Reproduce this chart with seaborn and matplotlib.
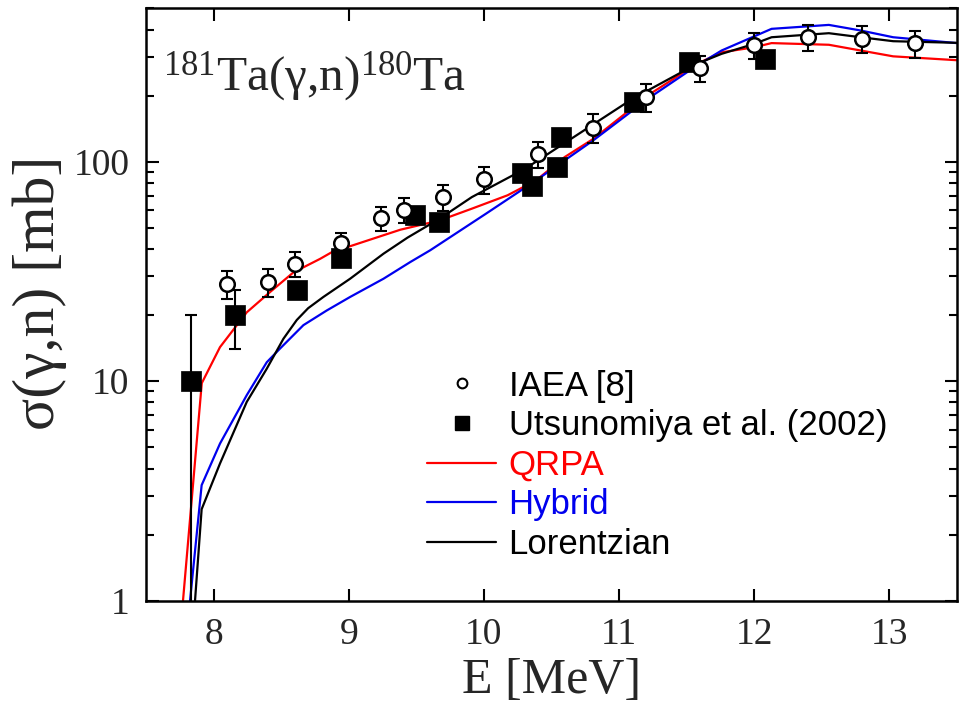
import numpy as np
import pandas as pd
import matplotlib
matplotlib.use("Agg")
import matplotlib.pyplot as plt
from matplotlib.lines import Line2D
import seaborn as sns

# --- measured cross sections -------------------------------------------------
iaea_E = [8.10, 8.40, 8.60, 8.94, 9.24, 9.41, 9.70, 10.00, 10.40, 10.81,
          11.20, 11.60, 12.00, 12.40, 12.80, 13.19]
iaea_sigma = [27.8, 28.3, 34.3, 42.5, 55.2, 60.5, 69.0, 83.1, 108, 143,
              198, 267, 341, 369, 363, 347]
iaea_err = [4, 4, 4.5, 5, 7, 8, 9.5, 11.5, 14.5, 21.5, 29, 36.5, 46, 51, 51, 49]

utsu_E = [7.83, 8.16, 8.62, 8.94, 9.49, 9.67, 10.28, 10.36, 10.54, 10.57,
          11.11, 11.52, 12.08]
utsu_sigma = [10, 20, 26.1, 36.6, 57, 53.1, 88.8, 77.4, 94.5, 130, 188, 284, 294]
utsu_err = [10, 6, 0, 0, 0, 0, 0, 0, 0, 0, 0, 0, 0]

# --- model calculations ------------------------------------------------------
qrpa_E = [7.774, 7.913, 8.048, 8.246, 8.419, 8.591, 8.789, 8.875, 9.0, 9.2,
          9.383, 9.673, 9.912, 10.176, 10.387, 10.599, 10.81, 11.233, 11.577,
          11.76, 12.0, 12.13, 12.554, 12.79, 13.03, 13.5]
qrpa_sigma = [1.0, 9.8, 14.3, 20.6, 25.5, 31.3, 36.1, 38.7, 41, 45,
              49, 54, 61.1, 70.3, 82.2, 105, 127, 204, 279,
              315, 332, 347, 341, 321, 302, 290]

hybrid_E = [7.826, 7.912, 8.048, 8.246, 8.394, 8.493, 8.665, 8.838, 9.011,
            9.258, 9.456, 9.604, 10.017, 10.387, 10.81, 11.233, 11.577, 11.76,
            12.13, 12.554, 12.79, 13.03, 13.5]
hybrid_sigma = [1.0, 3.36, 5.2, 8.64, 12.2, 14.1, 18, 21, 24.2,
                29.3, 34.9, 39.5, 58, 82.2, 125, 197, 274, 321,
                403, 420, 396, 369, 347]

lorentz_E = [7.863, 7.912, 8.048, 8.246, 8.394, 8.517, 8.616, 8.70, 8.813,
             9.011, 9.258, 9.436, 9.673, 9.912, 10.307, 11.101, 11.577, 11.76,
             12.0, 12.13, 12.554, 12.79, 13.03, 13.5]
lorentz_sigma = [1.0, 2.61, 4.22, 8.05, 11.4, 15.6, 19, 21.5, 24.2,
                 29.3, 38.1, 45.1, 55, 69, 92.9, 193.5, 279, 310,
                 344, 369, 385, 369, 354, 348]

model_names = ["QRPA", "Hybrid", "Lorentzian"]
model_colors = ["#ff0000", "#0000ee", "#000000"]

x_ticks = [8, 9, 10, 11, 12, 13]
y_ticks = [1, 10, 100]

# --- style -------------------------------------------------------------------
sns.set_style("ticks")
plt.rcParams["font.family"] = ["Liberation Serif", "DejaVu Serif"]
plt.rcParams["mathtext.fontset"] = "custom"
plt.rcParams["mathtext.rm"] = "Liberation Serif"
plt.rcParams["mathtext.it"] = "Liberation Serif:italic"
plt.rcParams["mathtext.bf"] = "Liberation Serif:bold"

fig = plt.figure(figsize=(9.61, 7.14), dpi=100)
ax = fig.add_axes([0.1519, 0.1587, 0.8436, 0.8297])

models = pd.concat([
    pd.DataFrame({"E": qrpa_E, "sigma": qrpa_sigma, "model": "QRPA"}),
    pd.DataFrame({"E": hybrid_E, "sigma": hybrid_sigma, "model": "Hybrid"}),
    pd.DataFrame({"E": lorentz_E, "sigma": lorentz_sigma, "model": "Lorentzian"}),
])
sns.lineplot(data=models, x="E", y="sigma", hue="model", hue_order=model_names,
             palette=model_colors, sort=False, estimator=None, lw=1.6,
             legend=False, ax=ax, zorder=2)

# error bars drawn under the symbols
ax.errorbar(iaea_E, iaea_sigma, yerr=iaea_err, fmt="none", ecolor="black",
            elinewidth=1.5, capsize=4, capthick=1.5, zorder=3)
u_sig = np.array(utsu_sigma, dtype=float)
u_err = np.array(utsu_err, dtype=float)
u_lo = np.minimum(u_err, 0.999 * u_sig)
mask = u_err > 0
ax.errorbar(np.array(utsu_E)[mask], u_sig[mask],
            yerr=[u_lo[mask], u_err[mask]], fmt="none", ecolor="black",
            elinewidth=1.5, capsize=4, capthick=1.5, zorder=3)

sns.scatterplot(x=utsu_E, y=utsu_sigma, marker="s", s=200, color="black",
                edgecolor="black", linewidth=0.5, ax=ax, zorder=4)
sns.scatterplot(x=iaea_E, y=iaea_sigma, marker="o", s=110, color="white",
                edgecolor="black", linewidth=1.8, ax=ax, zorder=5)

ax.set_yscale("log")
ax.set_xlim(7.5, 13.5)
ax.set_ylim(1, 500)
ax.set_xticks(x_ticks)
ax.set_xticklabels([str(t) for t in x_ticks])
ax.set_yticks(y_ticks)
ax.set_yticklabels([str(t) for t in y_ticks])
ax.xaxis.set_minor_locator(matplotlib.ticker.NullLocator())
ax.yaxis.set_minor_locator(matplotlib.ticker.LogLocator(base=10, subs=np.arange(2, 10)))
ax.yaxis.set_minor_formatter(matplotlib.ticker.NullFormatter())

ax.tick_params(which="both", direction="in", top=True, right=True, width=1.5,
               color="black")
ax.tick_params(which="major", length=9, labelsize=27, pad=12)
ax.tick_params(which="minor", length=6)
for sp in ax.spines.values():
    sp.set_linewidth(1.8)
    sp.set_color("black")

ax.set_xlabel("E [MeV]", fontsize=36, labelpad=4)
ax.set_ylabel("σ(γ,n) [mb]", fontsize=43)
ax.yaxis.set_label_coords(-0.097, 0.52)

# reaction label
ax.text(0.021, 0.862, r"$^{\mathrm{181}}$Ta(γ,n)$^{\mathrm{180}}$Ta",
        transform=ax.transAxes, fontsize=35.5, va="baseline", ha="left")

handles = [
    Line2D([], [], ls="none", marker="o", ms=7, mfc="white", mec="black", mew=1.5),
    Line2D([], [], ls="none", marker="s", ms=10, mfc="black", mec="black"),
    Line2D([], [], color=model_colors[0], lw=1.6),
    Line2D([], [], color=model_colors[1], lw=1.6),
    Line2D([], [], color=model_colors[2], lw=1.6),
]
labels = ["IAEA [8]", "Utsunomiya et al. (2002)"] + model_names
leg = ax.legend(handles, labels, loc="upper left", bbox_to_anchor=(0.3466, 0.390),
                frameon=False, borderpad=0, borderaxespad=0, handlelength=2.0,
                handletextpad=0.35, labelspacing=0.19,
                prop={"family": "Liberation Sans", "size": 25},
                labelcolor=["black", "black"] + model_colors)

fig.savefig("out.png", dpi=100)
